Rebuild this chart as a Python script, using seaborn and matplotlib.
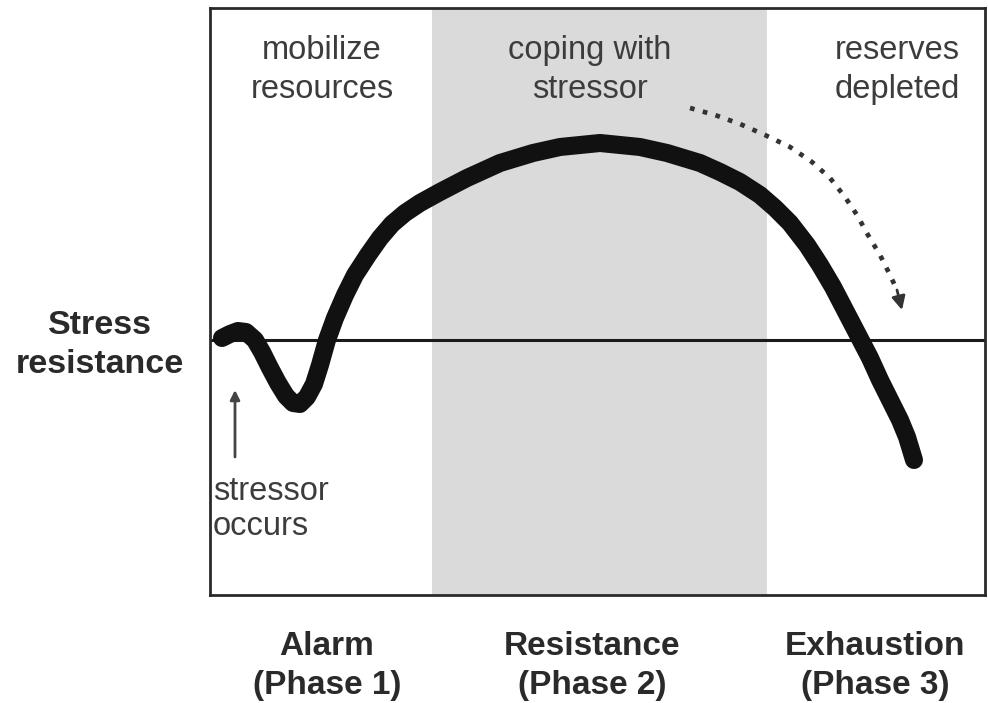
import matplotlib as mpl
mpl.use('Agg')
import matplotlib.pyplot as plt
import pandas as pd
import seaborn as sns
import numpy as np

# stress response curve (x = time, y = resistance vs. baseline)
curve_x = [12, 20, 28, 36, 45, 52, 60, 68, 76, 83, 90, 97, 104, 110, 117, 125, 135,
           145, 158, 170, 182, 195, 210, 230, 257, 290, 323, 350, 390, 430, 457,
           490, 510, 530, 550, 565, 580, 597, 610, 623, 635, 647, 660, 670, 680,
           690, 697, 704]
curve_y = [2, 6, 9, 8, 0, -12, -28, -43, -56, -63, -64, -57, -44, -25, 0, 22, 45,
           65, 85, 102, 116, 127, 137, 148, 162, 177, 187, 193, 197, 193, 187,
           177, 168, 158, 145, 132, 117, 95, 75, 53, 30, 7, -18, -40, -60,
           -80, -97, -120]

# phase 2 shading and phase labels
band_x = [222, 557]
top_notes = ["mobilize\nresources", "coping with\nstressor", "reserves\ndepleted"]
top_notes_x = [112, 380, 687]
phases = ["Alarm\n(Phase 1)", "Resistance\n(Phase 2)", "Exhaustion\n(Phase 3)"]
phases_x = [117, 382, 665]

# dotted "reserves depleted" arrow and "stressor occurs" arrow
dots_x = [480, 505, 530, 555, 580, 602, 620, 635, 647, 658, 670, 680, 687, 692]
dots_y = [232, 225, 216, 205, 193, 178, 162, 143, 125, 105, 85, 65, 50, 30]
stressor_x = [25, 25]
stressor_y = [-117, -50]

sns.set_style('white')
plt.rcParams['font.family'] = ['Liberation Sans', 'DejaVu Sans']

fig = plt.figure(figsize=(9.88, 7.03), dpi=100)
ax = fig.add_axes([210/988, 1 - 595/703, 775/988, 587/703])
ax.set_xlim(0, 775)
ax.set_ylim(-255, 332)

ax.axvspan(band_x[0], band_x[1], color='#dadada', lw=0, zorder=0)
ax.axhline(0, color='#1a1a1a', lw=2.2, zorder=1)

df = pd.DataFrame({'t': curve_x, 'r': curve_y})
sns.lineplot(data=df, x='t', y='r', color='#111111', lw=13, estimator=None,
             solid_capstyle='round', solid_joinstyle='round', ax=ax, zorder=3)

ax.plot(dots_x[:-1], dots_y[:-1], color='#333333', lw=3.4,
        linestyle=(0, (1, 1.8)), zorder=4)
ax.annotate('', xy=(dots_x[-1], dots_y[-1]), xytext=(dots_x[-2], dots_y[-2]),
            arrowprops=dict(arrowstyle='-|>', color='#333333', lw=2,
                            mutation_scale=20, shrinkA=0, shrinkB=0), zorder=4)
ax.annotate('', xy=(stressor_x[1], stressor_y[1]), xytext=(stressor_x[0], stressor_y[0]),
            arrowprops=dict(arrowstyle='-|>', color='#444444', lw=2,
                            mutation_scale=14, shrinkA=0, shrinkB=0))

grey = '#3c3c3c'
for txt, x in zip(top_notes, top_notes_x):
    ax.text(x, 270, txt, ha='center', va='center', fontsize=23.5, color=grey,
            linespacing=1.3)
ax.text(3, -169, "stressor\noccurs", ha='left', va='center', fontsize=23.5,
        color=grey, linespacing=1.2)

for txt, x in zip(phases, phases_x):
    ax.text(x, -326, txt, ha='center', va='center', fontsize=24,
            fontweight='bold', color='#2a2a2a', linespacing=1.35, clip_on=False)
ax.text(-110, -5, "Stress\nresistance", ha='center', va='center', fontsize=24.5,
        fontweight='bold', color='#2a2a2a', linespacing=1.35, clip_on=False)

ax.set_xticks([])
ax.set_yticks([])
ax.set_xlabel('')
ax.set_ylabel('')
for sp in ax.spines.values():
    sp.set_visible(True)
    sp.set_color('#2a2a2a')
    sp.set_linewidth(2)

fig.savefig('out.png', dpi=100)
